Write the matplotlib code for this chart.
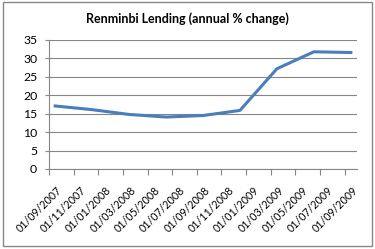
import matplotlib
matplotlib.use('Agg')
import matplotlib.pyplot as plt
import matplotlib.transforms as mtransforms
import pandas as pd
from matplotlib.patches import Rectangle

# quarterly observations
obs_dates = ['2007-09-01', '2007-12-01', '2008-03-01', '2008-06-01', '2008-09-01',
             '2008-12-01', '2009-03-01', '2009-06-01', '2009-09-01']
lending = [17.1, 16.1, 14.8, 14.1, 14.5, 15.9, 27.2, 31.8, 31.6]

tick_labels = ['01/09/2007', '01/11/2007', '01/01/2008', '01/03/2008', '01/05/2008',
               '01/07/2008', '01/09/2008', '01/11/2008', '01/01/2009', '01/03/2009',
               '01/05/2009', '01/07/2009', '01/09/2009']
yticks = [0, 5, 10, 15, 20, 25, 30, 35]

plt.rcParams['font.family'] = ['Lato', 'DejaVu Sans']

start = pd.Timestamp('2007-09-01')
d = pd.to_datetime(obs_dates)
x = [(t.year - start.year) * 12 + (t.month - start.month) for t in d]

fig = plt.figure(figsize=(3.75, 2.49), dpi=100)
fig.patches.append(Rectangle((0.008, 0.012), 0.984, 0.978, transform=fig.transFigure,
                             fill=False, edgecolor='#888888', linewidth=1))

ax = fig.add_axes([0.1307, 0.3213, 0.8213, 0.5181])
ax.plot(x, lending, color='#4a7ebb', linewidth=2.2, solid_joinstyle='round')

ax.set_xlim(-0.5, 24.5)
ax.set_ylim(0, 35)
ax.set_yticks(yticks)
ax.set_xticks([-0.5 + 2 * i for i in range(len(tick_labels))])
ax.set_xticklabels(tick_labels, rotation=45, ha='right', va='top', rotation_mode='anchor', fontsize=7.7)
ax.tick_params(axis='y', labelsize=8.8, length=3, color='#868686', pad=5.5)
ax.tick_params(axis='x', length=4, color='#868686', pad=7.5)

# excel puts the rotated labels a bit right of the tick
shift = mtransforms.ScaledTranslation(7 / 100, 0, fig.dpi_scale_trans)
for lab in ax.get_xticklabels():
    lab.set_transform(lab.get_transform() + shift)

ax.grid(axis='y', color='#868686', linewidth=0.8)
ax.set_axisbelow(True)
for s in ['top', 'right']:
    ax.spines[s].set_visible(False)
for s in ['left', 'bottom']:
    ax.spines[s].set_color('#868686')
    ax.spines[s].set_linewidth(0.8)

fig.text(0.5, 0.924, 'Renminbi Lending (annual % change)', ha='center', va='center',
         fontsize=9, fontweight='bold')

fig.savefig('out.png', dpi=100)
